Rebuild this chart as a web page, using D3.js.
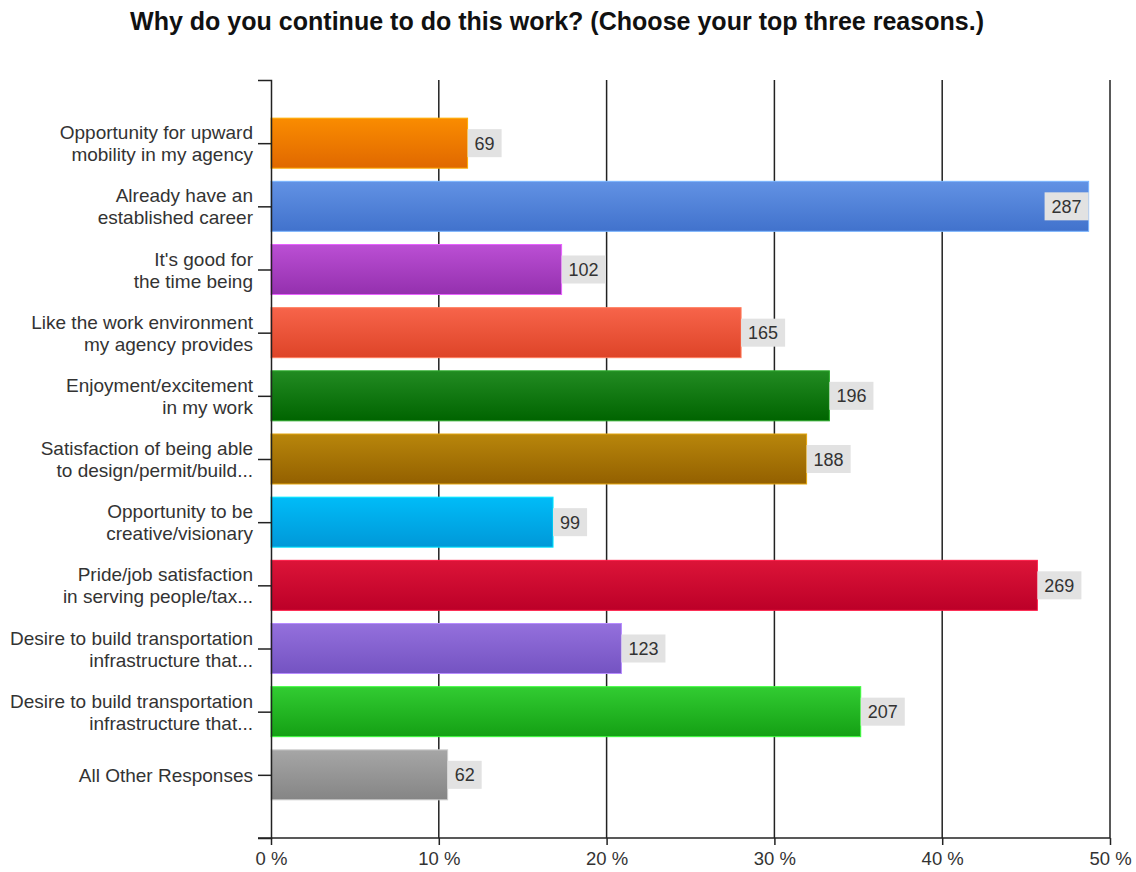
<!DOCTYPE html>
<html>
<head>
<meta charset="utf-8">
<script src="https://cdn.jsdelivr.net/npm/d3@7"></script>
<style>
  body { margin: 0; background: #fff; }
  svg { display: block; }
</style>
</head>
<body>
<svg id="chart" width="1136" height="872"></svg>
<script>
// Survey answers: one bar per reason, labels broken over two lines
const categories = [
  "Opportunity for upward\nmobility in my agency",
  "Already have an\nestablished career",
  "It's good for\nthe time being",
  "Like the work environment\nmy agency provides",
  "Enjoyment/excitement\nin my work",
  "Satisfaction of being able\nto design/permit/build...",
  "Opportunity to be\ncreative/visionary",
  "Pride/job satisfaction\nin serving people/tax...",
  "Desire to build transportation\ninfrastructure that...",
  "Desire to build transportation\ninfrastructure that...",
  "All Other Responses"
];
// Number of respondents choosing each reason
const counts = [69, 287, 102, 165, 196, 188, 99, 269, 123, 207, 62];
// Total respondents (bar length = share of respondents, in %)
const respondents = 589;
// Bar gradient colours (top, bottom)
const colorsTop    = ["#fa8c00", "#6292e4", "#bb4fd4", "#f7644a", "#228b22", "#b8860b", "#00bcf8", "#dc1438", "#9470dc", "#32cc32", "#a6a6a6"];
const colorsBottom = ["#e06800", "#4172cc", "#9430ae", "#de4428", "#006400", "#936000", "#0098d8", "#bc0028", "#7453c2", "#14a014", "#858585"];
const xTicks = [0, 10, 20, 30, 40, 50];
const chartTitle = "Why do you continue to do this work? (Choose your top three reasons.)";

const svg = d3.select("#chart");
const plotLeft = 271, plotRight = 1110, plotTop = 80, plotBottom = 838;

const x = d3.scaleLinear().domain([0, 50]).range([plotLeft, plotRight]);
const y = d3.scalePoint().domain(d3.range(categories.length)).range([plotTop, plotBottom]).padding(1);
const barH = 50;

// Title
svg.append("text")
  .attr("x", 557).attr("y", 30)
  .attr("text-anchor", "middle")
  .attr("textLength", 854)
  .attr("lengthAdjust", "spacingAndGlyphs")
  .style("font-family", "'Liberation Sans', Arial, sans-serif")
  .style("font-weight", "bold")
  .style("font-size", "25px")
  .style("fill", "#111")
  .text(chartTitle);

// Vertical gridlines
svg.append("g").selectAll("line")
  .data(xTicks.filter(d => d > 0))
  .join("line")
  .attr("x1", d => x(d)).attr("x2", d => x(d))
  .attr("y1", plotTop).attr("y2", plotBottom)
  .attr("stroke", "#222").attr("stroke-width", 1.5);

// Gradients
const defs = svg.append("defs");
categories.forEach((c, i) => {
  const g = defs.append("linearGradient")
    .attr("id", "grad" + i)
    .attr("x1", 0).attr("y1", 0).attr("x2", 0).attr("y2", 1);
  g.append("stop").attr("offset", "0%").attr("stop-color", colorsTop[i]);
  g.append("stop").attr("offset", "100%").attr("stop-color", colorsBottom[i]);
});

const pct = counts.map(c => c / respondents * 100);

// Bars
svg.append("g").selectAll("rect")
  .data(pct)
  .join("rect")
  .attr("x", x(0))
  .attr("y", (d, i) => y(i) - barH / 2)
  .attr("width", d => x(d) - x(0))
  .attr("height", barH)
  .attr("fill", (d, i) => `url(#grad${i})`)
  .attr("stroke", (d, i) => d3.color(colorsTop[i]).brighter(0.6))
  .attr("stroke-width", 1);

// X axis
const xAxis = svg.append("g")
  .attr("transform", `translate(0,${plotBottom})`)
  .call(d3.axisBottom(x).tickValues(xTicks).tickSize(7).tickSizeOuter(0).tickFormat(d => d + " %"));
xAxis.select(".domain").remove();
xAxis.append("line")
  .attr("x1", plotLeft - 13).attr("x2", plotRight)
  .attr("stroke", "#222").attr("stroke-width", 1.5);
xAxis.selectAll(".tick line").attr("stroke", "#222").attr("stroke-width", 1.5);
xAxis.selectAll(".tick text")
  .attr("y", 14)
  .style("font-family", "'Liberation Sans', Arial, sans-serif")
  .style("font-size", "18.5px")
  .style("fill", "#333");

// Y axis
const yAxis = svg.append("g")
  .attr("transform", `translate(${plotLeft},0)`)
  .call(d3.axisLeft(y).tickSize(13).tickSizeOuter(13).tickFormat(""));
yAxis.select(".domain").attr("stroke", "#222").attr("stroke-width", 1.5);
yAxis.selectAll(".tick line").attr("stroke", "#222").attr("stroke-width", 1.5);

// Category labels
const catG = svg.append("g")
  .style("font-family", "'Liberation Sans', Arial, sans-serif")
  .style("font-size", "19px")
  .style("fill", "#333");
categories.forEach((c, i) => {
  const lines = c.split("\n");
  const t = catG.append("text")
    .attr("x", plotLeft - 18)
    .attr("text-anchor", "end");
  const lineH = 22;
  const first = y(i) - (lines.length - 1) * lineH / 2 + 7;
  lines.forEach((ln, k) => {
    t.append("tspan").attr("x", plotLeft - 18).attr("y", first + k * lineH).text(ln);
  });
});

// Value labels in grey boxes
const valG = svg.append("g");
counts.forEach((v, i) => {
  const g = valG.append("g");
  const box = g.append("rect").attr("fill", "#e2e2e2");
  const txt = g.append("text")
    .style("font-family", "'Liberation Sans', Arial, sans-serif")
    .style("font-size", "18px")
    .style("fill", "#333")
    .attr("text-anchor", "middle")
    .text(v);
  const w = txt.node().getComputedTextLength() + 14;
  const h = 28;
  const end = x(pct[i]);
  const bx = end + w > plotRight - 4 ? end - w : end;
  box.attr("x", bx).attr("y", y(i) - h / 2).attr("width", w).attr("height", h);
  txt.attr("x", bx + w / 2).attr("y", y(i) + 6.5);
});
</script>
</body>
</html>
